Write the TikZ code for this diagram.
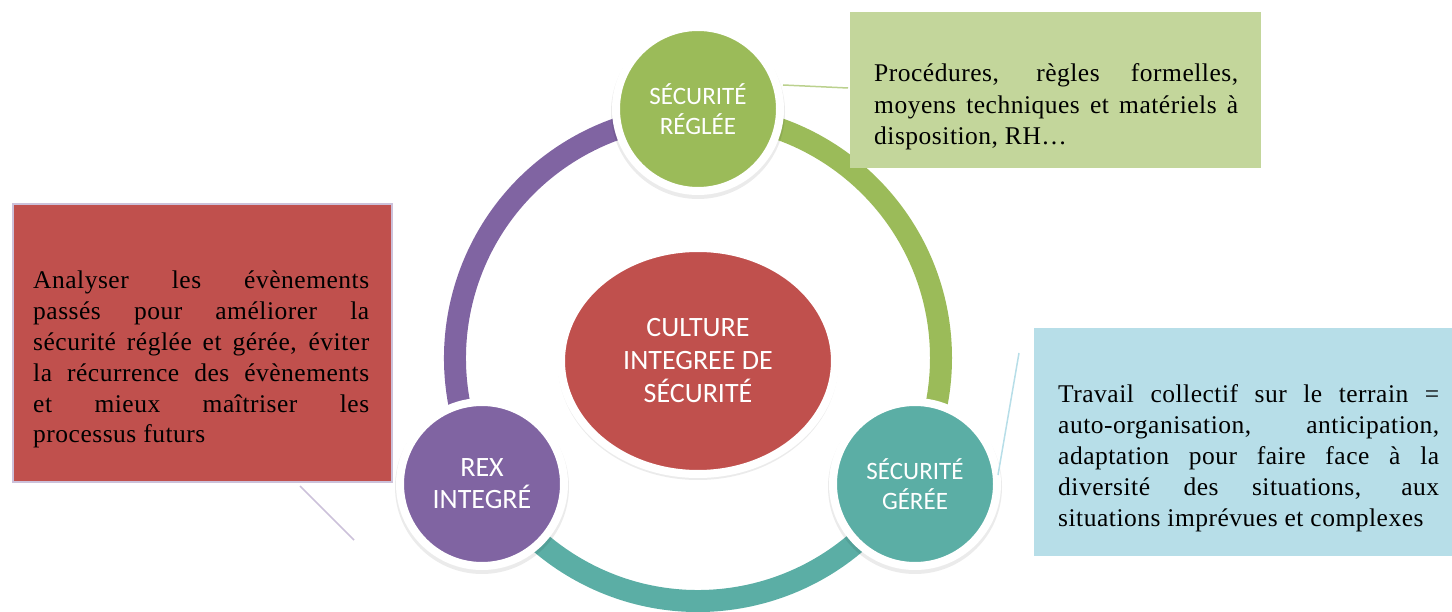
\documentclass[tikz,border=0pt]{standalone}
\usepackage{fontspec}
\setmainfont{Liberation Serif}
\newfontfamily\boxfont[LetterSpace=2]{Liberation Serif}
\newfontfamily\calfont{Carlito}
\usetikzlibrary{shapes.geometric}
\definecolor{cgreen}{HTML}{9BBB59}
\definecolor{cpurple}{HTML}{8064A2}
\definecolor{cteal}{HTML}{5BAEA5}
\definecolor{cred}{HTML}{C0504D}
\definecolor{cgbox}{HTML}{C3D69B}
\definecolor{cbbox}{HTML}{B7DEE8}
\definecolor{clav}{HTML}{CCC1DA}
\begin{document}
\tolerance=10000 \hbadness=10000 \hyphenpenalty=10000 \exhyphenpenalty=10000
\begin{tikzpicture}[x=1pt,y=1pt,
  ringseg/.style={line width=22pt},
  bub/.style={circle, draw=white, line width=8pt, minimum size=164pt, inner sep=0pt,
    text=white, align=center, font=\calfont\fontsize{25}{30}\selectfont},
  shade/.style={fill=black, opacity=0.08},
  boxtext/.style={inner sep=0pt, anchor=base west, align=justify, text=black},
  callline/.style={line width=1.5pt},
]
\useasboundingbox (0,0) rectangle (1452,611);
% ring
\coordinate (c) at (698,253);
\draw[ringseg, color=cpurple] (c) ++(210:243) arc[start angle=210, end angle=90, radius=243];
\draw[ringseg, color=cgreen] (c) ++(90:243) arc[start angle=90, end angle=-30, radius=243];
\draw[ringseg, color=cteal] (c) ++(-30:243) arc[start angle=-30, end angle=-150, radius=243];
% shadows
\fill[shade] (698,499) circle (87);
\fill[shade] (482,124) circle (87);
\fill[shade] (915,124) circle (87);
\fill[shade] (698,247) ellipse (140 and 116);
% central ellipse
\node[ellipse, fill=cred, draw=white, line width=8pt, minimum width=274pt, minimum height=226pt,
  inner sep=0pt, text=white, align=center, font=\calfont\fontsize{28}{33}\selectfont]
  (core) at (698,250) {CULTURE\\INTEGREE DE\\SÉCURITÉ};
% circles
\node[bub, fill=cgreen] (regl) at (698,502) {SÉCURITÉ\\RÉGLÉE};
\node[bub, fill=cpurple, font=\calfont\fontsize{28}{32}\selectfont] (rex) at (482,127) {REX\\INTEGRÉ};
\node[bub, fill=cteal] (gere) at (915,127) {SÉCURITÉ\\GÉRÉE};
% boxes
\node[rectangle, fill=cgbox, minimum width=411pt, minimum height=156pt, inner sep=0pt, anchor=south west]
  (gbox) at (850,443) {};
\node[rectangle, fill=cred, draw=clav, line width=2pt, minimum width=379pt, minimum height=278pt,
  inner sep=0pt, anchor=south west] (rbox) at (12,128) {};
\node[rectangle, fill=cbbox, minimum width=420pt, minimum height=228pt, inner sep=0pt, anchor=south west]
  (bbox) at (1034,55) {};
% box texts
\node[boxtext, text width=364pt, font=\boxfont\fontsize{25.5}{31.5}\selectfont] (gtxt) at (874,529)
  {Procédures, règles formelles,\linebreak moyens techniques et matériels à\linebreak disposition, RH…};
\node[boxtext, text width=336pt, font=\boxfont\fontsize{25.5}{30.8}\selectfont] (rtxt) at (33,322)
  {Analyser les évènements\linebreak passés pour améliorer la\linebreak sécurité réglée et gérée, éviter\linebreak la récurrence des évènements\linebreak et mieux maîtriser les\linebreak processus futurs};
\node[boxtext, text width=381pt, font=\boxfont\fontsize{25.5}{31}\selectfont] (btxt) at (1058,208)
  {Travail collectif sur le terrain =\linebreak auto-organisation, anticipation,\linebreak adaptation pour faire face à la\linebreak diversité des situations, aux\linebreak situations imprévues et complexes};
% callout lines
\coordinate (g1) at (783,526);
\coordinate (g2) at (848,523);
\draw[callline, color=cgbox!80!cgreen] (g1) -- (g2);
\coordinate (b1) at (1019,258);
\coordinate (b2) at (998,136);
\draw[callline, color=cbbox] (b1) -- (b2);
\coordinate (r1) at (300,125);
\coordinate (r2) at (354,71);
\draw[callline, color=clav] (r1) -- (r2);
\end{tikzpicture}
\end{document}
